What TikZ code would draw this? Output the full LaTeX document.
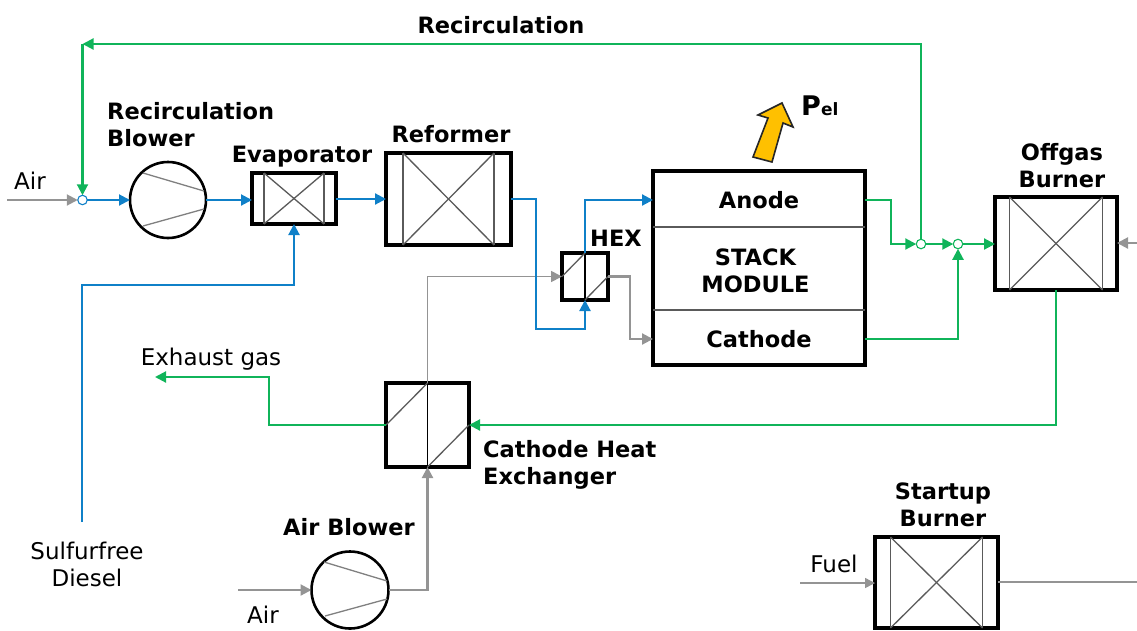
\documentclass[tikz,border=0pt]{standalone}
\usepackage{fontspec}
\setmainfont{DejaVu Sans}
\usetikzlibrary{arrows.meta,calc}
\definecolor{flowblue}{HTML}{0F80C8}
\definecolor{flowgreen}{HTML}{10B45A}
\definecolor{flowgray}{HTML}{949494}
\definecolor{inner}{HTML}{5A5A5A}
\definecolor{pelyellow}{HTML}{FFC000}
\tikzset{
  x=1pt,y=-1pt,
  unit/.style={draw=black,line width=3.8pt,fill=white,inner sep=0pt,outer sep=0pt,minimum width=#1},
  bh/.style={minimum height=#1},
  blowerc/.style={circle,draw=black,line width=2.6pt,fill=white,inner sep=0pt,outer sep=0pt,minimum size=#1},
  joint/.style={circle,draw=#1,line width=1.1pt,fill=white,inner sep=0pt,outer sep=0pt,minimum size=9.5pt},
  flow/.style={line width=2.1pt,draw=#1,-{Triangle[length=11pt,width=11pt,fill=#1]}},
  plain/.style={line width=2pt,draw=#1},
  thinflow/.style={line width=1.4pt,draw=#1,-{Triangle[length=10pt,width=10pt,fill=#1]}},
  innerline/.style={line width=1.3pt,draw=inner},
  lab/.style={font=\fontsize{22.5}{27}\selectfont\bfseries,align=center,inner sep=0pt},
  labl/.style={font=\fontsize{22.5}{27}\selectfont\bfseries,align=left,inner sep=0pt,anchor=west},
  txt/.style={font=\fontsize{23}{27}\selectfont,align=center,inner sep=0pt}
}
\newcommand{\crossbox}[2]{%
  \draw[innerline] ($(#1.north west)+(#2,0)$) -- ($(#1.south west)+(#2,0)$);
  \draw[innerline] ($(#1.north east)+(-#2,0)$) -- ($(#1.south east)+(-#2,0)$);
  \draw[innerline] ($(#1.north west)+(#2,0)$) -- ($(#1.south east)+(-#2,0)$);
  \draw[innerline] ($(#1.south west)+(#2,0)$) -- ($(#1.north east)+(-#2,0)$);
}
\newcommand{\hxbox}[1]{%
  \draw[innerline,draw=black] (#1.north) -- (#1.south);
  \draw[innerline] (#1.west) -- (#1.north);
  \draw[innerline] (#1.south) -- (#1.east);
}
\begin{document}
\begin{tikzpicture}
\useasboundingbox (0,0) rectangle (1137,630);
% coordinates
\coordinate (airin) at (7,200);
\coordinate (airin2) at (238,590);
\coordinate (fuelin) at (800,583);
\coordinate (dieselin) at (82,522);
\coordinate (exhaustend) at (155,377);
\coordinate (rightin) at (1137,243);
\coordinate (rightout) at (1137,582);
% units
\node[unit=84pt,bh=51pt] (evap) at (294,198.5) {};
\crossbox{evap}{12}
\node[unit=125pt,bh=92pt] (reformer) at (448.5,199) {};
\crossbox{reformer}{17}
\node[unit=46pt,bh=47pt] (hex) at (585,276.5) {};
\hxbox{hex}
\node[unit=212pt,bh=194pt] (stack) at (759,268) {};
\draw[line width=1.2pt,draw=inner] (stack.west |- 0,227) coordinate (s1) -- (stack.east |- s1);
\draw[line width=1.2pt,draw=inner] (stack.west |- 0,310) coordinate (s2) -- (stack.east |- s2);
\node[unit=122pt,bh=93pt] (offgas) at (1056,243.5) {};
\crossbox{offgas}{14.5}
\node[unit=83pt,bh=84pt] (chx) at (427.5,425) {};
\hxbox{chx}
\node[unit=123pt,bh=91pt] (startup) at (936.5,582.5) {};
\crossbox{startup}{15.5}
\node[blowerc=76pt] (recblower) at (168,200) {};
\draw[innerline,draw=gray] (143,173) -- (204,191);
\draw[innerline,draw=gray] (143,226) -- (204,209);
\node[blowerc=77pt] (airblower) at (350,590) {};
\draw[innerline,draw=gray] (324,562) -- (387,581);
\draw[innerline,draw=gray] (325,616) -- (387,599);
% stack labels
\node[lab] (anode) at (759,200) {Anode};
\node[lab] (stacklab) at (755.5,270.5) {STACK\\MODULE};
\node[lab] (cathode) at (759,339) {Cathode};
% junctions
\node[joint=flowblue] (j0) at (82.5,200) {};
\node[joint=flowgreen] (j1) at (921,244) {};
\node[joint=flowgreen] (j2) at (958,244) {};
% gray flows
\draw[flow=flowgray] (airin) -- (j0.west);
\draw[flow=flowgray] (airin2) -- (airblower.west);
\draw[flow=flowgray] (airblower.east) -| (chx.south);
\draw[flow=flowgray,line width=1.7pt] (chx.north) |- (hex.west);
\draw[flow=flowgray] (hex.east) -- ++(22,0) |- (cathode -| stack.west);
\draw[thinflow=flowgray] (fuelin) -- (startup.west |- fuelin);
\draw[plain=flowgray,line width=1.4pt] (startup.east |- rightout) -- (rightout);
\draw[flow=flowgray] (rightin) -- (offgas.east |- rightin);
% blue flows
\draw[flow=flowblue] (j0.east) -- (recblower.west);
\draw[flow=flowblue] (recblower.east) -- (evap.west |- recblower.east);
\draw[flow=flowblue] (evap.east |- reformer.west) -- (reformer.west);
\draw[flow=flowblue] (reformer.east) -- ++(25,0) |- ++(49,130) -- (hex.south);
\draw[flow=flowblue] (hex.north) |- (anode -| stack.west);
\draw[flow=flowblue] (dieselin) |- (294,285) -- (evap.south);
% green flows
\draw[flow=flowgreen] (anode -| stack.east) -- ++(26,0) |- (j1.west);
\draw[flow=flowgreen] (j1.east) -- (j2.west);
\draw[flow=flowgreen] (j2.east) -- (offgas.west |- j2);
\draw[flow=flowgreen] (cathode -| stack.east) -| (j2.south);
\draw[flow=flowgreen] (j1.north) |- (j0 |- 0,44);
\draw[flow=flowgreen] (j0 |- 0,44) -- (j0.north);
\draw[flow=flowgreen] (offgas.south) |- (chx.east);
\draw[flow=flowgreen] (chx.west) -- ++(-117,0) |- (exhaustend);
% Pel arrow
\draw[line width=1.6pt,draw=black!85,fill=pelyellow,line join=miter] (782,103) -- (793,127) -- (783,123) -- (772,162) -- (753,157) -- (768,118) -- (758,115) -- cycle;
% labels
\node[lab] (l1) at (501,25) {Recirculation};
\node[labl] (l2) at (107,124.5) {Recirculation\\Blower};
\node[lab] (l3) at (302,157) {Evaporator};
\node[lab] (l4) at (451,134) {Reformer};
\node[labl] (l5) at (590,238) {HEX};
\node[inner sep=0pt,anchor=base west] (l6) at (801,115) {\fontsize{27}{27}\selectfont\bfseries P\fontsize{17}{17}\selectfont el};
\node[lab] (l7) at (1062,165.5) {Offgas\\Burner};
\node[labl] (l8) at (483,465) {Cathode Heat\\Exchanger};
\node[lab] (l9) at (349,527) {Air Blower};
\node[lab] (l10) at (943,504.5) {Startup\\Burner};
\node[txt] (t1) at (30,181) {Air};
\node[txt] (t2) at (211,359) {Exhaust gas};
\node[txt] (t3) at (87,564.5) {Sulfurfree\\Diesel};
\node[txt] (t4) at (263,615) {Air};
\node[txt] (t5) at (834,564) {Fuel};
\end{tikzpicture}
\end{document}
